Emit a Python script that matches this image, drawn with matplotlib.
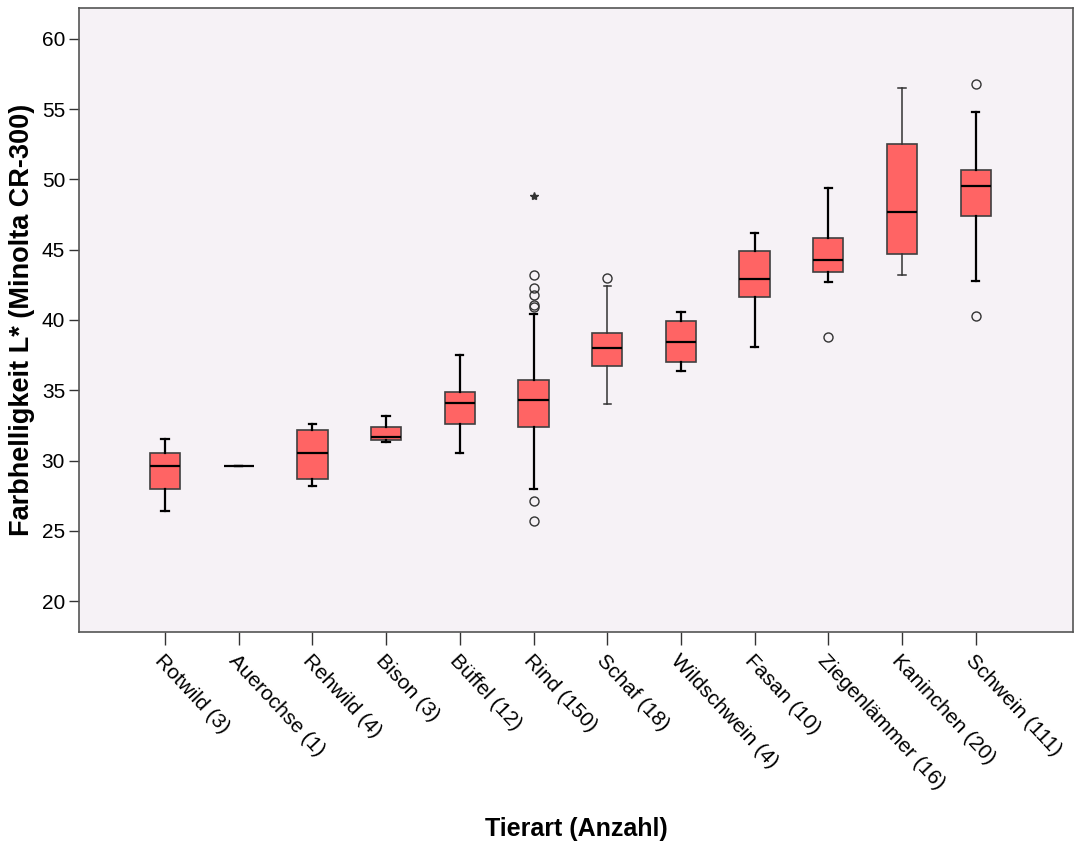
import matplotlib
matplotlib.use("Agg")
from matplotlib import pyplot as plt

plt.rcParams["font.family"] = ["Liberation Sans", "DejaVu Sans"]

# Werte
tierarten = ["Rotwild (3)", "Auerochse (1)", "Rehwild (4)", "Bison (3)", "Büffel (12)",
             "Rind (150)", "Schaf (18)", "Wildschwein (4)", "Fasan (10)",
             "Ziegenlämmer (16)", "Kaninchen (20)", "Schwein (111)"]
whisker_unten = [26.4, 29.6, 28.2, 31.3, 30.5, 28.0, 34.0, 36.4, 38.1, 42.7, 43.2, 42.8]
q1 = [28.0, 29.6, 28.7, 31.45, 32.6, 32.4, 36.7, 37.0, 41.6, 43.4, 44.7, 47.4]
median = [29.6, 29.6, 30.5, 31.65, 34.1, 34.3, 38.0, 38.4, 42.9, 44.3, 47.7, 49.5]
q3 = [30.55, 29.6, 32.2, 32.4, 34.9, 35.7, 39.1, 39.9, 44.9, 45.85, 52.5, 50.7]
whisker_oben = [31.5, 29.6, 32.6, 33.2, 37.5, 40.4, 42.4, 40.6, 46.2, 49.4, 56.5, 54.8]
ausreisser = [[], [], [], [], [], [43.2, 42.3, 41.8, 41.1, 40.9, 27.1, 25.7], [43.0],
              [], [], [38.8], [], [56.8, 40.3]]
extremwerte = [[], [], [], [], [], [48.8], [], [], [], [], [], []]

stats = []
for i in range(len(tierarten)):
    stats.append({
        "whislo": whisker_unten[i], "q1": q1[i], "med": median[i],
        "q3": q3[i], "whishi": whisker_oben[i], "fliers": ausreisser[i],
    })

fig = plt.figure(figsize=(10.91, 8.5), dpi=100)
ax = fig.add_axes([0.0724, 0.2565, 0.9111, 0.7341])
ax.set_facecolor("#f6f2f6")

teile = ax.bxp(stats, positions=range(len(tierarten)), widths=0.41, patch_artist=True,
               boxprops=dict(facecolor="#ff6464", edgecolor="#404040", linewidth=1.2),
               medianprops=dict(color="black", linewidth=1.6),
               whiskerprops=dict(color="black", linewidth=1.6),
               capprops=dict(color="black", linewidth=1.6),
               capwidths=0.1,
               flierprops=dict(marker="o", markerfacecolor="none", markeredgecolor="#333333",
                               markersize=6.5, markeredgewidth=1.0))

# Schaf und Kaninchen haben im Original dünnere Whisker
for i in (6, 10):
    for linie in teile["whiskers"][2 * i:2 * i + 2] + teile["caps"][2 * i:2 * i + 2]:
        linie.set_linewidth(1.1)
        linie.set_color("#333333")

for i, werte in enumerate(extremwerte):
    if werte:
        ax.plot([i] * len(werte), werte, linestyle="none", marker="*",
                color="#333333", markersize=6)

ax.set_xlim(-1.167, 12.32)
ax.set_ylim(17.8, 62.2)
ax.set_yticks(range(20, 61, 5))
ax.set_xticks(range(len(tierarten)))
ax.set_xticklabels(tierarten, rotation=-47, ha="left", va="top",
                   rotation_mode="anchor", fontsize=15)
ax.tick_params(axis="y", labelsize=15, length=7, width=1, color="#333333", pad=3)
ax.tick_params(axis="x", length=9, width=1, color="#333333", pad=5)

for s in ax.spines.values():
    s.set_color("#555555")
    s.set_linewidth(1.2)

ax.set_xlabel("Tierart (Anzahl)", fontsize=18, fontweight="bold", labelpad=17)
ax.set_ylabel("Farbhelligkeit L* (Minolta CR-300)", fontsize=19.5, fontweight="bold",
              labelpad=5)

fig.savefig("out.png", dpi=100)
